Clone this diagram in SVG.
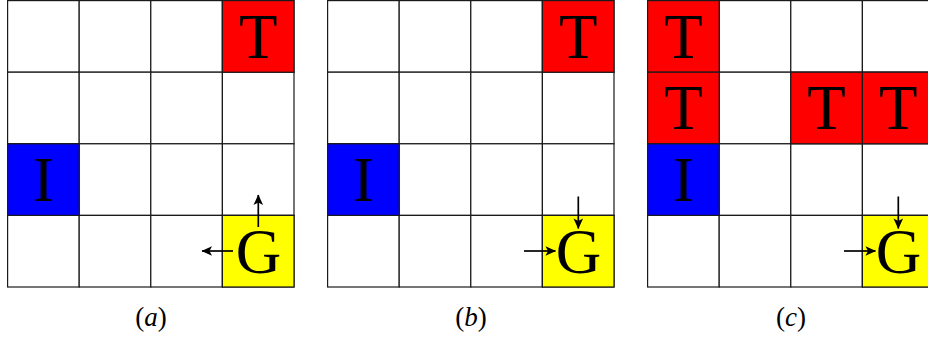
<svg xmlns="http://www.w3.org/2000/svg" width="928" height="337" viewBox="0 0 928 337">
<style>
.cell{fill:#ffffff;stroke:#1a1a1a;stroke-width:1.2}
.red{fill:#ff0000}
.blue{fill:#0000ff}
.yellow{fill:#ffff00}
.lbl{font-family:"Liberation Serif","Times New Roman",serif;font-size:63px;fill:#000;text-anchor:middle}
.cap{font-family:"Liberation Serif","Times New Roman",serif;font-size:27px;fill:#000;text-anchor:middle}
.arr{stroke:#000;stroke-width:1.7;fill:none;marker-end:url(#ah)}
</style>
<defs>
<marker id="ah" viewBox="-12 -7 14 14" refX="0" refY="0" markerWidth="14" markerHeight="14" markerUnits="userSpaceOnUse" orient="auto">
<path d="M0.5,0 L-10,-4.8 L-7.5,0 L-10,4.8 Z" fill="#000"/>
</marker>
<g id="grid">
<rect class="cell" x="0" y="0" width="71.6" height="71.6"/>
<rect class="cell" x="71.6" y="0" width="71.6" height="71.6"/>
<rect class="cell" x="143.2" y="0" width="71.6" height="71.6"/>
<rect class="cell" x="214.8" y="0" width="71.6" height="71.6"/>
<rect class="cell" x="0" y="71.6" width="71.6" height="71.6"/>
<rect class="cell" x="71.6" y="71.6" width="71.6" height="71.6"/>
<rect class="cell" x="143.2" y="71.6" width="71.6" height="71.6"/>
<rect class="cell" x="214.8" y="71.6" width="71.6" height="71.6"/>
<rect class="cell" x="0" y="143.2" width="71.6" height="71.6"/>
<rect class="cell" x="71.6" y="143.2" width="71.6" height="71.6"/>
<rect class="cell" x="143.2" y="143.2" width="71.6" height="71.6"/>
<rect class="cell" x="214.8" y="143.2" width="71.6" height="71.6"/>
<rect class="cell" x="0" y="214.8" width="71.6" height="71.6"/>
<rect class="cell" x="71.6" y="214.8" width="71.6" height="71.6"/>
<rect class="cell" x="143.2" y="214.8" width="71.6" height="71.6"/>
<rect class="cell" x="214.8" y="214.8" width="71.6" height="71.6"/>
</g>
</defs>

<!-- Grid (a) -->
<g id="grid-a" transform="translate(7.6,0.6)">
<use href="#grid"/>
<g id="a-T"><rect class="cell red" x="214.8" y="0" width="71.6" height="71.6"/><text class="lbl" x="250.6" y="57">T</text></g>
<g id="a-I"><rect class="cell blue" x="0" y="143.2" width="71.6" height="71.6"/><text class="lbl" x="35.8" y="200">I</text></g>
<g id="a-G"><rect class="cell yellow" x="214.8" y="214.8" width="71.6" height="71.6"/><text class="lbl" x="251" y="272.5">G</text></g>
</g>

<!-- Grid (b) -->
<g id="grid-b" transform="translate(327.6,0.6)">
<use href="#grid"/>
<g id="b-T"><rect class="cell red" x="214.8" y="0" width="71.6" height="71.6"/><text class="lbl" x="250.6" y="57">T</text></g>
<g id="b-I"><rect class="cell blue" x="0" y="143.2" width="71.6" height="71.6"/><text class="lbl" x="35.8" y="200">I</text></g>
<g id="b-G"><rect class="cell yellow" x="214.8" y="214.8" width="71.6" height="71.6"/><text class="lbl" x="251" y="272.5">G</text></g>
</g>

<!-- Grid (c) -->
<g id="grid-c" transform="translate(647.6,0.6)">
<use href="#grid"/>
<g id="c-T1"><rect class="cell red" x="0" y="0" width="71.6" height="71.6"/><text class="lbl" x="35.8" y="57">T</text></g>
<g id="c-T2"><rect class="cell red" x="0" y="71.6" width="71.6" height="71.6"/><text class="lbl" x="35.8" y="128.6">T</text></g>
<g id="c-T3"><rect class="cell red" x="143.2" y="71.6" width="71.6" height="71.6"/><text class="lbl" x="179" y="128.6">T</text></g>
<g id="c-T4"><rect class="cell red" x="214.8" y="71.6" width="71.6" height="71.6"/><text class="lbl" x="250.6" y="128.6">T</text></g>
<g id="c-I"><rect class="cell blue" x="0" y="143.2" width="71.6" height="71.6"/><text class="lbl" x="35.8" y="200">I</text></g>
<g id="c-G"><rect class="cell yellow" x="214.8" y="214.8" width="71.6" height="71.6"/><text class="lbl" x="251" y="272.5">G</text></g>
</g>

<g id="connectors">
<line class="arr" x1="258.3" y1="227" x2="258.3" y2="195"/>
<line class="arr" x1="233" y1="251" x2="202" y2="251"/>
<line class="arr" x1="578.3" y1="196.5" x2="578.3" y2="228.5"/>
<line class="arr" x1="524" y1="251" x2="555.5" y2="251"/>
<line class="arr" x1="898.3" y1="196.5" x2="898.3" y2="228.5"/>
<line class="arr" x1="844" y1="251" x2="875.5" y2="251"/>
</g>

<g id="captions">
<text class="cap" x="151" y="326">(<tspan font-style="italic">a</tspan>)</text>
<text class="cap" x="471" y="326">(<tspan font-style="italic">b</tspan>)</text>
<text class="cap" x="791" y="326">(<tspan font-style="italic">c</tspan>)</text>
</g>
</svg>
